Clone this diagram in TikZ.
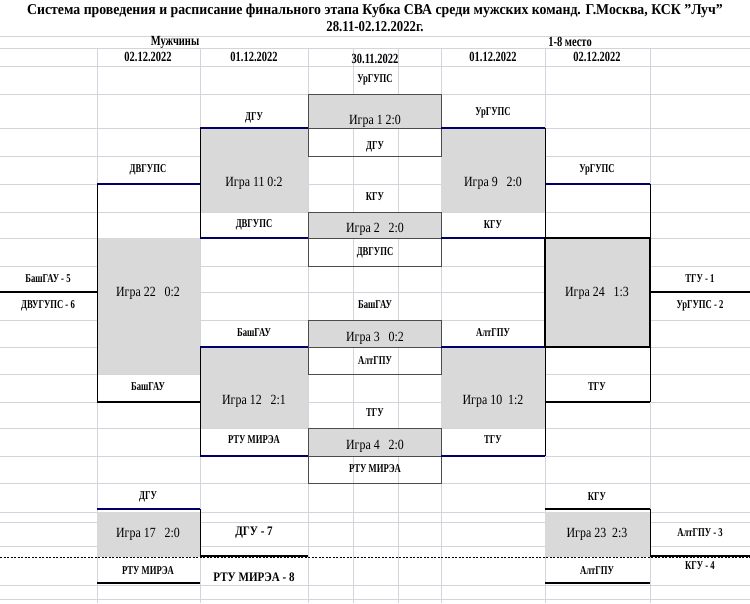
\documentclass[tikz,border=0pt]{standalone}
\usepackage{fontspec}
\setmainfont{Liberation Serif}
\begin{document}
\begin{tikzpicture}[x=1pt,y=-1pt,
  grid/.style={draw=blue!12!gray!30,line width=0.6pt},
  nv/.style={draw=blue!40!black,line width=2pt},
  bk/.style={draw=black,line width=1.3pt},
  box/.style={fill=gray!30},
  t/.style={font=\fontsize{12}{12}\selectfont\bfseries\addfontfeature{FakeStretch=0.72}},
  h/.style={font=\fontsize{14}{14}\selectfont\bfseries\addfontfeature{FakeStretch=0.75}},
  g/.style={font=\fontsize{14}{14}\selectfont\addfontfeature{FakeStretch=0.85}}]
\useasboundingbox (0,0) rectangle (750,603);
\fill[white] (0,0) rectangle (750,603);
% grid
\foreach \y in {36,48,66,94,128,156,184,212,238,266,292,320,347,374,402,428,456,483,512,522,546,585,599}
  \draw[grid] (0,\y) -- (750,\y);
\foreach \x in {97,200,308,353,398,441,545,650}
  \draw[grid] (\x,48) -- (\x,603);
% grey boxes
\fill[box] (308,94) rectangle (441,128);
\fill[box] (308,212) rectangle (441,238);
\fill[box] (308,320) rectangle (441,347);
\fill[box] (308,428) rectangle (441,456);
\fill[box] (200,128) rectangle (308,212);
\fill[box] (441,128) rectangle (545,212);
\fill[box] (200,347) rectangle (308,428);
\fill[box] (441,347) rectangle (545,428);
\fill[box] (97,238) rectangle (200,374);
\fill[box] (545,238) rectangle (650,347);
\fill[box] (97,512) rectangle (200,557);
\fill[box] (545,512) rectangle (650,557);
% central boxes
\foreach \a/\b in {94/156,212/266,320/374,428/483}
  \draw[black!70,line width=0.8pt] (308,\a) rectangle (441,\b);
\foreach \m in {128,238,347,456}
  \draw[black!70,line width=0.8pt] (308,\m) -- (441,\m);
% navy lines
\draw[nv] (200,128) -- (308,128) (441,128) -- (545,128);
\draw[nv] (200,238) -- (308,238) (441,238) -- (545,238);
\draw[nv] (200,347) -- (308,347) (441,347) -- (545,347);
\draw[nv] (200,456) -- (308,456) (441,456) -- (545,456);
\draw[nv] (97,184) -- (200,184) (545,184) -- (650,184);
\draw[nv] (97,509) -- (200,509);
% black lines
\draw[bk] (97,402) -- (200,402) (545,402) -- (650,402);
\draw[black,line width=0.8pt] (97,184) -- (97,402) (650,184) -- (650,402);
\draw[black,line width=0.8pt] (200,128) -- (200,238) (200,347) -- (200,456);
\draw[black,line width=0.8pt] (545,128) -- (545,238) (545,347) -- (545,456);
\draw[black,line width=1.6pt] (545,238) rectangle (650,347);
\draw[bk] (0,292) -- (97,292) (650,292) -- (750,292);
\draw[bk] (545,509) -- (650,509);
\draw[black,line width=0.8pt] (200,509) -- (200,557) (650,509) -- (650,557);
\draw[bk] (200,556) -- (308,556) (650,556) -- (750,556);
\draw[bk] (97,583) -- (200,583) (545,583) -- (650,583);
\draw[black,line width=0.7pt,dash pattern=on 2pt off 1.5pt] (0,557) -- (750,557);
% titles
\node[font=\fontsize{15}{15}\selectfont\bfseries\addfontfeature{FakeStretch=0.92}] (t1) at (375,11) {Система проведения и расписание финального этапа Кубка СВА среди мужских команд. Г.Москва, КСК "Луч"};
\node[font=\fontsize{15}{15}\selectfont\bfseries\addfontfeature{FakeStretch=0.85}] (t2) at (375,27) {28.11-02.12.2022г.};
\node[h] (h1) at (175,42) {Мужчины};
\node[h] (h2) at (570,42) {1-8 место};
\node[h] (d1) at (148,57) {02.12.2022};
\node[h] (d2) at (254,57) {01.12.2022};
\node[h] (d3) at (375,59) {30.11.2022};
\node[h] (d4) at (493,57) {01.12.2022};
\node[h] (d5) at (597,57) {02.12.2022};
% games
\node[g] (g1) at (375,121) {Игра 1 2:0};
\node[g] (g2) at (375,229) {Игра 2 \ \ 2:0};
\node[g] (g3) at (375,338) {Игра 3 \ \ 0:2};
\node[g] (g4) at (375,446) {Игра 4 \ \ 2:0};
\node[g] (g11) at (254,183) {Игра 11 0:2};
\node[g] (g9) at (493,183) {Игра 9 \ \ 2:0};
\node[g] (g12) at (254,401) {Игра 12 \ \ 2:1};
\node[g] (g10) at (493,401) {Игра 10 \ 1:2};
\node[g] (g22) at (148,293) {Игра 22 \ \ 0:2};
\node[g] (g24) at (597,293) {Игра 24 \ \ 1:3};
\node[g] (g17) at (148,534) {Игра 17 \ \ 2:0};
\node[g] (g23) at (597,534) {Игра 23 \ 2:3};
% team labels
\node[t] at (375,80) {УрГУПС};
\node[t] at (375,147) {ДГУ};
\node[t] at (375,197) {КГУ};
\node[t] at (375,253) {ДВГУПС};
\node[t] at (375,305) {БашГАУ};
\node[t] at (375,361) {АлтГПУ};
\node[t] at (375,413) {ТГУ};
\node[t] at (375,469) {РТУ МИРЭА};
\node[t] at (254,118) {ДГУ};
\node[t] at (254,225) {ДВГУПС};
\node[t] at (254,333) {БашГАУ};
\node[t] at (254,440) {РТУ МИРЭА};
\node[t] at (493,113) {УрГУПС};
\node[t] at (493,225) {КГУ};
\node[t] at (493,333) {АлтГПУ};
\node[t] at (493,440) {ТГУ};
\node[t] at (148,170) {ДВГУПС};
\node[t] at (148,387) {БашГАУ};
\node[t] at (597,170) {УрГУПС};
\node[t] at (597,387) {ТГУ};
\node[t] at (48,279) {БашГАУ - 5};
\node[t] at (48,306) {ДВУГУПС - 6};
\node[t] at (700,279) {ТГУ - 1};
\node[t] at (700,306) {УрГУПС - 2};
\node[t] at (148,497) {ДГУ};
\node[t] at (148,571) {РТУ МИРЭА};
\node[t] at (597,497) {КГУ};
\node[t] at (597,571) {АлтГПУ};
\node[font=\fontsize{13}{13}\selectfont\bfseries\addfontfeature{FakeStretch=0.85}] at (254,533) {ДГУ - 7};
\node[font=\fontsize{13}{13}\selectfont\bfseries\addfontfeature{FakeStretch=0.85}] at (254,577) {РТУ МИРЭА - 8};
\node[t] at (700,533) {АлтГПУ - 3};
\node[t] at (700,566) {КГУ - 4};
\end{tikzpicture}
\end{document}
